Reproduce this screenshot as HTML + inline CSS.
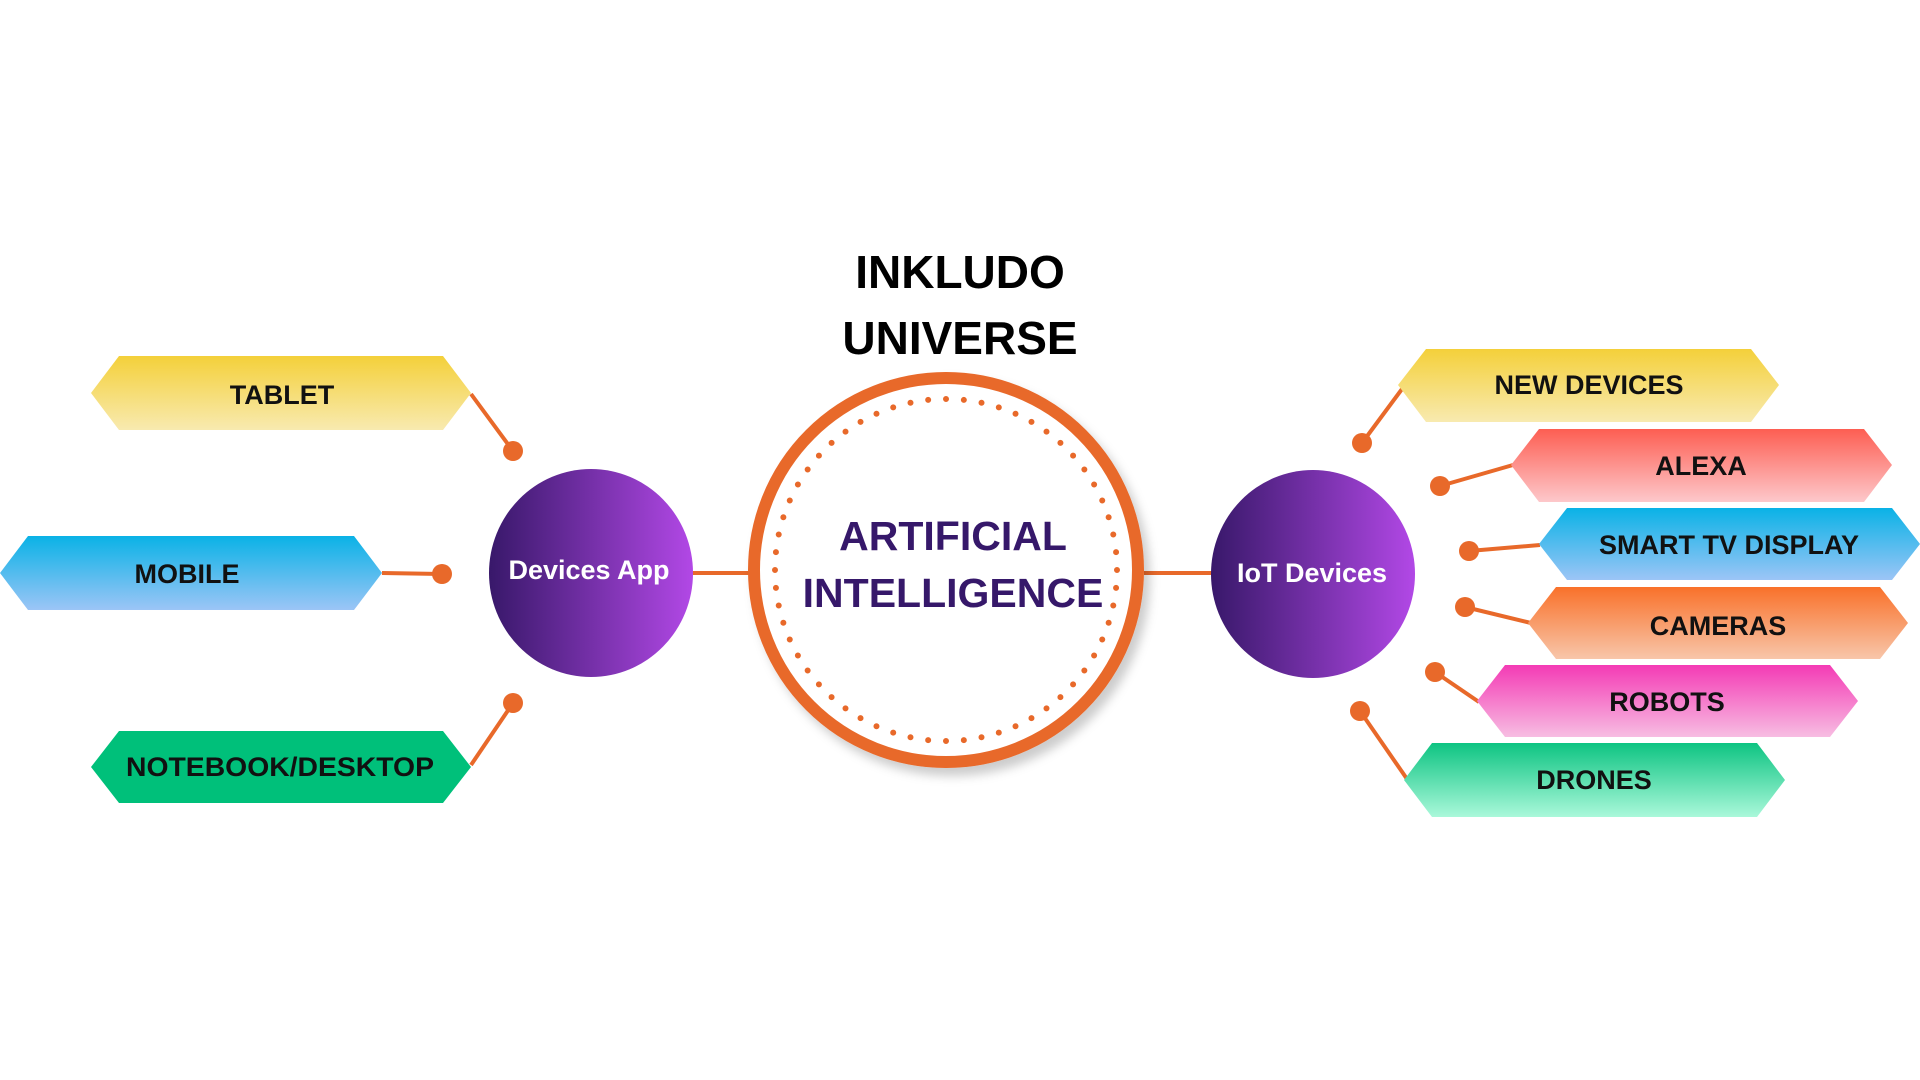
<!DOCTYPE html>
<html><head><meta charset="utf-8"><style>
html,body{margin:0;padding:0;background:#fff;width:1920px;height:1080px;overflow:hidden}
text{font-family:"Liberation Sans",Arial,sans-serif;font-weight:bold}
</style></head><body>
<svg width="1920" height="1080" viewBox="0 0 1920 1080" xmlns="http://www.w3.org/2000/svg">
<defs>
<linearGradient id="yel" x1="0" y1="0" x2="0" y2="1"><stop offset="0" stop-color="#f4d03a"/><stop offset="1" stop-color="#f8eab0"/></linearGradient>
<linearGradient id="blu" x1="0" y1="0" x2="0" y2="1"><stop offset="0" stop-color="#0ab2e6"/><stop offset="1" stop-color="#9cc5f6"/></linearGradient>
<linearGradient id="grn" x1="0" y1="0" x2="0" y2="1"><stop offset="0" stop-color="#00c07a"/><stop offset="1" stop-color="#00c07a"/></linearGradient>
<linearGradient id="red" x1="0" y1="0" x2="0" y2="1"><stop offset="0" stop-color="#fd5e52"/><stop offset="1" stop-color="#fdc8cb"/></linearGradient>
<linearGradient id="org" x1="0" y1="0" x2="0" y2="1"><stop offset="0" stop-color="#f9712a"/><stop offset="1" stop-color="#f8c6aa"/></linearGradient>
<linearGradient id="pnk" x1="0" y1="0" x2="0" y2="1"><stop offset="0" stop-color="#f43bb5"/><stop offset="1" stop-color="#f7bde2"/></linearGradient>
<linearGradient id="drn" x1="0" y1="0" x2="0" y2="1"><stop offset="0" stop-color="#0ec482"/><stop offset="1" stop-color="#aaf8da"/></linearGradient>
<linearGradient id="pur" x1="0" y1="0" x2="1" y2="0"><stop offset="0" stop-color="#38186a"/><stop offset="1" stop-color="#b248e6"/></linearGradient>
<filter id="sh" x="-20%" y="-20%" width="140%" height="140%"><feDropShadow dx="6" dy="8" stdDeviation="5" flood-color="#000" flood-opacity="0.2"/></filter>
</defs>

<g stroke="#e8692a" stroke-width="4" fill="none">
<line x1="471" y1="394" x2="513" y2="451"/>
<line x1="382" y1="573" x2="442" y2="574"/>
<line x1="471" y1="765" x2="513" y2="703"/>
<line x1="693" y1="573" x2="749" y2="573"/>
<line x1="1144" y1="573" x2="1212" y2="573"/>
<line x1="1402" y1="389" x2="1362" y2="443"/>
<line x1="1513" y1="465" x2="1440" y2="486"/>
<line x1="1540" y1="545" x2="1469" y2="551"/>
<line x1="1531" y1="623" x2="1465" y2="607"/>
<line x1="1479" y1="702" x2="1435" y2="672"/>
<line x1="1407" y1="779" x2="1360" y2="711"/>
</g>
<g fill="#e8692a">
<circle cx="513" cy="451" r="10"/><circle cx="442" cy="574" r="10"/><circle cx="513" cy="703" r="10"/>
<circle cx="1362" cy="443" r="10"/><circle cx="1440" cy="486" r="10"/><circle cx="1469" cy="551" r="10"/>
<circle cx="1465" cy="607" r="10"/><circle cx="1435" cy="672" r="10"/><circle cx="1360" cy="711" r="10"/>
</g>

<polygon points="119,356 443,356 471,393 443,430 119,430 91,393" fill="url(#yel)"/>
<text x="282" y="404" font-size="27" text-anchor="middle" fill="#111">TABLET</text>
<polygon points="28,536 354,536 382,573 354,610 28,610 0,573" fill="url(#blu)"/>
<text x="187" y="583" font-size="27" text-anchor="middle" fill="#111">MOBILE</text>
<polygon points="119,731 443,731 471,767 443,803 119,803 91,767" fill="url(#grn)"/>
<text x="280" y="776" font-size="27" text-anchor="middle" fill="#111" textLength="308" lengthAdjust="spacingAndGlyphs">NOTEBOOK/DESKTOP</text>

<polygon points="1426,349 1751,349 1779,385 1751,422 1426,422 1398,385" fill="url(#yel)"/>
<text x="1589" y="394" font-size="27" text-anchor="middle" fill="#111">NEW DEVICES</text>
<polygon points="1539,429 1864,429 1892,465 1864,502 1539,502 1511,465" fill="url(#red)"/>
<text x="1701" y="475" font-size="27" text-anchor="middle" fill="#111">ALEXA</text>
<polygon points="1567,508 1892,508 1920,544 1892,580 1567,580 1539,544" fill="url(#blu)"/>
<text x="1729" y="554" font-size="27" text-anchor="middle" fill="#111">SMART TV DISPLAY</text>
<polygon points="1556,587 1880,587 1908,623 1880,659 1556,659 1528,623" fill="url(#org)"/>
<text x="1718" y="635" font-size="27" text-anchor="middle" fill="#111">CAMERAS</text>
<polygon points="1505,665 1830,665 1858,701 1830,737 1505,737 1477,701" fill="url(#pnk)"/>
<text x="1667" y="711" font-size="27" text-anchor="middle" fill="#111">ROBOTS</text>
<polygon points="1432,743 1757,743 1785,780 1757,817 1432,817 1404,780" fill="url(#drn)"/>
<text x="1594" y="789" font-size="27" text-anchor="middle" fill="#111">DRONES</text>

<ellipse cx="591" cy="573" rx="102" ry="104" fill="url(#pur)"/>
<text x="589" y="579" font-size="27" text-anchor="middle" fill="#fff">Devices App</text>
<ellipse cx="1313" cy="574" rx="102" ry="104" fill="url(#pur)"/>
<text x="1312" y="582" font-size="27" text-anchor="middle" fill="#fff">IoT Devices</text>

<circle cx="946" cy="570" r="192" fill="#fff" stroke="#e8692a" stroke-width="12" filter="url(#sh)"/>
<circle cx="946" cy="570" r="171" fill="none" stroke="#e8692a" stroke-width="6" stroke-linecap="round" stroke-dasharray="0 17.9"/>
<text x="953" y="550" font-size="41" text-anchor="middle" fill="#36186a">ARTIFICIAL</text>
<text x="953" y="607" font-size="41" text-anchor="middle" fill="#36186a">INTELLIGENCE</text>

<text x="960" y="288" font-size="46" text-anchor="middle" fill="#000">INKLUDO</text>
<text x="960" y="354" font-size="46" text-anchor="middle" fill="#000">UNIVERSE</text>
</svg>
</body></html>
